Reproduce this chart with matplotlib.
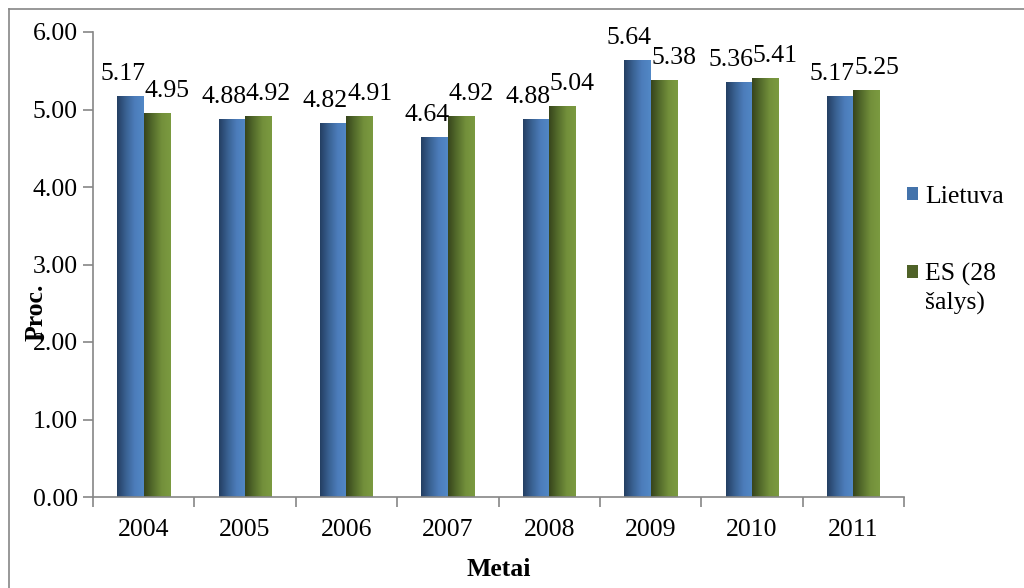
import numpy as np
import matplotlib
matplotlib.use("Agg")
import matplotlib.pyplot as plt
from matplotlib.colors import LinearSegmentedColormap
from matplotlib.patches import Patch
from matplotlib.lines import Line2D

plt.rcParams['font.family'] = ['Liberation Serif', 'DejaVu Serif']

years = ['2004', '2005', '2006', '2007', '2008', '2009', '2010', '2011']
lietuva = [5.17, 4.88, 4.82, 4.64, 4.88, 5.64, 5.36, 5.17]
es28 = [4.95, 4.92, 4.91, 4.92, 5.04, 5.38, 5.41, 5.25]
series_names = ['Lietuva', 'ES (28']
name_cont = 'šalys)'

FS = 18.5

fig = plt.figure(figsize=(10.24, 5.88), dpi=100)
ax = fig.add_axes([93 / 1024, 1 - 497 / 588, 811 / 1024, 465 / 588])

x = np.arange(len(years))
w = 0.26
blue_cmap = LinearSegmentedColormap.from_list('b', ['#243f63', '#3a6293', '#4c7dbb', '#5288c6'])
green_cmap = LinearSegmentedColormap.from_list('g', ['#37451c', '#556d2c', '#73903b', '#7b9a40'])

bars1 = ax.bar(x - w / 2, lietuva, w, facecolor='none', edgecolor='none')
bars2 = ax.bar(x + w / 2, es28, w, facecolor='none', edgecolor='none')

grad = np.linspace(0, 1, 64).reshape(1, -1)
for bars, cmap in [(bars1, blue_cmap), (bars2, green_cmap)]:
    for b in bars:
        x0, y0 = b.get_x(), b.get_y()
        im = ax.imshow(grad, cmap=cmap, aspect='auto', interpolation='bilinear',
                       extent=(x0, x0 + b.get_width(), y0, y0 + b.get_height()), zorder=2)
        im.set_clip_path(b)

# value labels
for bars, vals, dx in [(bars1, lietuva, -8), (bars2, es28, 10)]:
    for b, v in zip(bars, vals):
        ax.annotate(f'{v:.2f}', (b.get_x() + b.get_width() / 2, v),
                    xytext=(dx, 11), textcoords='offset pixels',
                    ha='center', va='bottom', fontsize=FS, clip_on=False)

ax.set_xlim(-0.5, len(years) - 0.5)
ax.set_ylim(0, 6)
ax.set_yticks(np.arange(0, 6.01, 1))
ax.set_yticklabels([f'{v:.2f}' for v in np.arange(0, 6.01, 1)])
ax.set_xticks(x)
ax.set_xticklabels(years)
ax.set_xticks(np.arange(-0.5, len(years)), minor=True)
ax.tick_params(axis='x', which='major', length=0, pad=16, labelsize=FS)
ax.tick_params(axis='x', which='minor', length=7, color='#868686', width=1.2)
ax.tick_params(axis='y', length=7, color='#868686', width=1.2, labelsize=FS, pad=4)
for s in ['top', 'right']:
    ax.spines[s].set_visible(False)
for s in ['left', 'bottom']:
    ax.spines[s].set_color('#868686')
    ax.spines[s].set_linewidth(1.2)

ax.set_xlabel('Metai', fontsize=FS, fontweight='bold', labelpad=12)
fig.text(36 / 1024, 1 - 312 / 588, 'Proc.', rotation=90, fontsize=FS, fontweight='bold',
         ha='center', va='center')

handles = [Patch(facecolor='#4473ab', edgecolor='none'), Patch(facecolor='#4f6228', edgecolor='none')]
fig.legend(handles, series_names, loc='upper left', bbox_to_anchor=(907 / 1024, 1 - 186 / 588),
           frameon=False, fontsize=FS, handlelength=0.42, handleheight=0.42,
           handletextpad=0.28, labelspacing=2.15, borderpad=0, borderaxespad=0)
fig.text(925 / 1024, 1 - 303 / 588, name_cont, fontsize=FS, ha='left', va='center')

# outer chart border (left and top visible)
fig.add_artist(Line2D([9 / 1024, 9 / 1024], [0, 1 - 9 / 588], color='#868686', lw=1.2))
fig.add_artist(Line2D([9 / 1024, 1], [1 - 9 / 588, 1 - 9 / 588], color='#868686', lw=1.2))

fig.savefig('out.png', dpi=100)
